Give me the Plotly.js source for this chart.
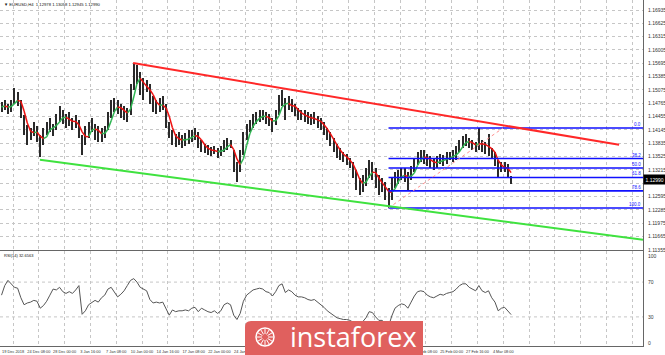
<!DOCTYPE html>
<html><head><meta charset="utf-8">
<script src="https://cdn.plot.ly/plotly-3.0.1.min.js"></script>
<style>html,body{margin:0;padding:0;background:#fff;}#chart{width:665px;height:355px;}</style>
</head><body><div id="chart"></div>
<script>
// ---------------- DATA ----------------
const symbolTitle = "EURUSD,H4";
const headerOHLC = [1.12978, 1.13058, 1.12945, 1.12990];
const lastPrice = 1.12990;

const dateLabels = ["19 Dec 2018","24 Dec 08:00","28 Dec 00:00","3 Jan 16:00","7 Jan 08:00","10 Jan 00:00",
  "14 Jan 16:00","17 Jan 08:00","22 Jan 00:00","24 Jan 16:00","29 Jan 08:00","1 Feb 00:00","5 Feb 16:00",
  "8 Feb 08:00","13 Feb 00:00","15 Feb 16:00","20 Feb 08:00","25 Feb 00:00","27 Feb 16:00","4 Mar 08:00"];

const priceTicks = [1.16935,1.16625,1.16315,1.16005,1.15695,1.15385,1.15075,1.14765,1.14455,1.14145,
  1.13835,1.13525,1.13215,1.12905,1.12595,1.12285,1.11975,1.11665,1.11355];

const rsiTicks = [100, 70, 30, 0];
const rsiLevels = [70, 30];

// one point = two H4 bars
const barHigh = [1.1480,1.1484,1.1475,1.1484,1.1512,1.1503,1.1484,1.1449,1.1426,1.1419,
1.1433,1.1424,1.1403,1.1419,1.1433,1.1442,1.1428,1.1452,1.1470,1.1461,
1.1452,1.1456,1.1442,1.1449,1.1438,1.1403,1.1424,1.1433,1.1442,1.1428,
1.1424,1.1419,1.1424,1.1456,1.1484,1.1489,1.1484,1.1475,1.1470,1.1466,
1.1521,1.1570,1.1566,1.1549,1.1535,1.1531,1.1521,1.1494,1.1484,1.1489,
1.1494,1.1475,1.1433,1.1415,1.1405,1.1410,1.1403,1.1408,1.1415,1.1415,
1.1419,1.1410,1.1391,1.1382,1.1380,1.1375,1.1377,1.1373,1.1377,1.1391,
1.1396,1.1391,1.1368,1.1340,1.1368,1.1410,1.1428,1.1438,1.1452,1.1456,
1.1461,1.1461,1.1456,1.1452,1.1442,1.1461,1.1496,1.1507,1.1489,1.1494,
1.1487,1.1475,1.1466,1.1461,1.1461,1.1456,1.1452,1.1456,1.1447,1.1442,
1.1433,1.1419,1.1410,1.1396,1.1382,1.1373,1.1363,1.1359,1.1349,1.1340,
1.1321,1.1303,1.1310,1.1326,1.1345,1.1340,1.1326,1.1310,1.1303,1.1294,
1.1280,1.1303,1.1317,1.1321,1.1326,1.1326,1.1317,1.1331,1.1349,1.1363,
1.1368,1.1368,1.1359,1.1354,1.1349,1.1354,1.1359,1.1356,1.1363,1.1363,
1.1368,1.1377,1.1391,1.1401,1.1405,1.1396,1.1391,1.1387,1.1419,1.1391,
1.1387,1.1405,1.1373,1.1363,1.1345,1.1340,1.1340,1.1335,1.1308];

const barLow = [1.1456,1.1461,1.1452,1.1456,1.1475,1.1470,1.1442,1.1403,1.1380,1.1391,
1.1401,1.1387,1.1352,1.1380,1.1403,1.1410,1.1401,1.1415,1.1433,1.1428,
1.1419,1.1424,1.1415,1.1419,1.1396,1.1356,1.1380,1.1396,1.1410,1.1391,
1.1387,1.1387,1.1396,1.1415,1.1442,1.1456,1.1452,1.1442,1.1438,1.1433,
1.1449,1.1507,1.1521,1.1496,1.1484,1.1503,1.1475,1.1456,1.1452,1.1456,
1.1461,1.1419,1.1396,1.1380,1.1375,1.1380,1.1373,1.1377,1.1382,1.1387,
1.1391,1.1373,1.1363,1.1361,1.1356,1.1354,1.1359,1.1349,1.1354,1.1363,
1.1368,1.1373,1.1317,1.1294,1.1317,1.1356,1.1391,1.1410,1.1419,1.1428,
1.1433,1.1438,1.1428,1.1424,1.1410,1.1426,1.1449,1.1470,1.1438,1.1461,
1.1456,1.1447,1.1438,1.1438,1.1433,1.1428,1.1426,1.1428,1.1419,1.1415,
1.1403,1.1391,1.1377,1.1363,1.1349,1.1345,1.1340,1.1333,1.1326,1.1303,
1.1275,1.1263,1.1270,1.1284,1.1303,1.1298,1.1280,1.1263,1.1270,1.1252,
1.1233,1.1252,1.1280,1.1289,1.1298,1.1294,1.1275,1.1298,1.1317,1.1333,
1.1340,1.1335,1.1331,1.1326,1.1321,1.1326,1.1335,1.1331,1.1335,1.1345,
1.1340,1.1345,1.1363,1.1373,1.1377,1.1373,1.1368,1.1363,1.1368,1.1363,
1.1359,1.1354,1.1349,1.1331,1.1303,1.1317,1.1317,1.1303,1.1289];

const rsiValues = [55,66,72,68,64,63,52,44,46,47,
49,48,40,43,48,55,62,61,64,59,
57,59,57,61,66,33,37,44,47,49,
47,52,55,62,64,58,53,56,60,66,
72,74,70,64,62,60,50,46,47,46,
47,39,32,38,36,37,37,38,37,40,
41,36,40,38,36,35,37,34,37,44,
46,44,32,27,34,48,55,58,61,62,
63,62,59,58,54,59,66,68,58,61,
59,55,53,53,52,50,49,50,47,45,
41,37,34,31,29,28,27,27,26,24,
21,20,24,29,36,35,30,26,26,23,
19,31,40,43,45,44,40,47,54,59,
60,59,55,53,52,54,56,55,57,58,
59,62,66,68,68,64,62,60,66,60,
58,60,52,47,37,40,41,37,32.6563];

// trend lines: [bar index], [price]
const resistanceX = [40.8, 191.5];
const resistanceY = [1.1570, 1.1380];
const supportX = [11.9, 198.9];
const supportY = [1.1345, 1.1159];

// Fibonacci retracement
const fibAnchorX = [120, 155.5];
const fibAnchorY = [1.1233, 1.1419];  // low, high
const fibRatios = [0, 38.2, 50, 61.8, 78.6, 100];
const fibLabels = ["0.0", "38.2", "50.0", "61.8", "78.6", "100.0"];

// ---------------- BUILD ----------------
const W = 665, H = 355;
const px = x => x / W, py = y => 1 - y / H;
const N = barHigh.length;
const idx = barHigh.map((_, i) => i);
const xMin = -0.47, xMax = 198.9;
const plotRightPx = 643;
const FONT = "Liberation Sans, Arial, sans-serif";

const mid = barHigh.map((h, i) => (h + barLow[i]) / 2);
const ma = mid.map((_, i) => { const a = Math.max(0, i - 2); let s = 0; for (let k = a; k <= i; k++) s += mid[k]; return s / (i - a + 1); });
const up = {x: [], y: []}, dn = {x: [], y: []};
for (let i = 0; i < N - 1; i++) { const t = ma[i + 1] >= ma[i] ? up : dn; t.x.push(i, i + 1, null); t.y.push(ma[i], ma[i + 1], null); }

const traces = [];
traces.push({type: 'bar', x: idx, y: barHigh.map((h, i) => h - barLow[i]), base: barLow, width: 0.62,
  marker: {color: '#2a2a2a', line: {width: 0}}, xaxis: 'x', yaxis: 'y', hoverinfo: 'skip'});
traces.push({type: 'scatter', mode: 'lines', x: up.x, y: up.y, line: {color: '#2fb552', width: 1.5}, connectgaps: false, hoverinfo: 'skip'});
traces.push({type: 'scatter', mode: 'lines', x: dn.x, y: dn.y, line: {color: '#ee1111', width: 1.5}, connectgaps: false, hoverinfo: 'skip'});

const hi = fibAnchorY[1], lo = fibAnchorY[0];
const fibPrices = fibRatios.map(r => hi - r / 100 * (hi - lo));
fibPrices.forEach(p => traces.push({type: 'scatter', mode: 'lines', x: [fibAnchorX[0], xMax], y: [p, p],
  line: {color: '#1010ff', width: 1.6}, hoverinfo: 'skip'}));
traces.push({type: 'scatter', mode: 'lines', x: fibAnchorX, y: fibAnchorY, line: {color: '#ff8f8f', width: 1, dash: 'dot'}, hoverinfo: 'skip'});
traces.push({type: 'scatter', mode: 'lines', x: resistanceX, y: resistanceY, line: {color: '#ff2828', width: 2}, hoverinfo: 'skip'});
traces.push({type: 'scatter', mode: 'lines', x: supportX, y: supportY, line: {color: '#3fe23f', width: 2}, hoverinfo: 'skip'});
traces.push({type: 'scatter', mode: 'lines', x: idx, y: rsiValues, xaxis: 'x2', yaxis: 'y2', line: {color: '#555', width: 1}, hoverinfo: 'skip'});

// watermark box (pixels)
const wmLeft = 245, wmRight = 423, wmTop = 321;

const tickStart = 3.57;
const pxPerIdx = plotRightPx / (xMax - xMin);
const allLabels = dateLabels.concat(['', '', '', '', '']);
const xTickVals = allLabels.map((_, k) => tickStart + 8 * k);
// labels lying completely under the watermark are not visible in the picture
const tickText = allLabels.map((t, k) => {
  const cxp = (xTickVals[k] - xMin) * pxPerIdx;
  return (cxp - 11 > wmLeft && cxp + 11 < wmRight) ? '' : t;
});

const grid = {showgrid: true, gridcolor: '#c6c6c6', griddash: 'dot', gridwidth: 1, zeroline: false};
const frame = {showline: true, linecolor: '#666', linewidth: 1, mirror: true};

const step = 0.0031, stepPx = 40 / 3;
const pBot = priceTicks[priceTicks.length - 1] - 0.00002;
const pTop = priceTicks[0] + 10 * step / stepPx;
// the price label hidden behind the current-price box
const priceText = priceTicks.map(v => Math.abs(v - lastPrice) < step / 2.5 ? '' : v.toFixed(5));

const annotations = [];
annotations.push({xref: 'paper', yref: 'paper', x: px(2), y: py(4.5), xanchor: 'left', yanchor: 'middle', showarrow: false,
  text: '▼ ' + symbolTitle + '  ' + headerOHLC.map(v => v.toFixed(5)).join(' '), font: {family: FONT, size: 4.2, color: '#111'}});
annotations.push({xref: 'paper', yref: 'paper', x: px(2), y: py(255.5), xanchor: 'left', yanchor: 'middle', showarrow: false,
  text: 'RSI(14) ' + rsiValues[N - 1].toFixed(4), font: {family: FONT, size: 4, color: '#111'}});
fibPrices.forEach((p, k) => annotations.push({xref: 'x', yref: 'y', x: xMax, y: p, xanchor: 'right', yanchor: 'bottom', showarrow: false,
  text: fibLabels[k], font: {family: FONT, size: 4.5, color: '#1010ff'}, yshift: -1}));
annotations.push({xref: 'paper', yref: 'y', x: px(plotRightPx), y: lastPrice, xanchor: 'left', yanchor: 'middle', showarrow: false,
  text: lastPrice.toFixed(5), bgcolor: '#000', borderpad: 1.5, font: {family: FONT, size: 5, color: '#fff'}});
annotations.push({xref: 'paper', yref: 'paper', x: px(288), y: py(336), xanchor: 'left', yanchor: 'middle', showarrow: false,
  text: 'instaforex', font: {family: 'Open Sans, Liberation Sans, sans-serif', size: 27, color: '#fff'}});

const shapes = [];
rsiLevels.forEach(v => shapes.push({type: 'line', xref: 'x2 domain', yref: 'y2', x0: 0, x1: 1, y0: v, y1: v,
  line: {color: '#c6c6c6', width: 1, dash: 'dot'}, layer: 'below'}));
shapes.push({type: 'path', xref: 'paper', yref: 'paper', layer: 'above',
  path: `M${px(wmLeft)},${py(355)} L${px(wmLeft)},${py(wmTop + 6)} Q${px(wmLeft)},${py(wmTop)} ${px(wmLeft + 6)},${py(wmTop)} L${px(wmRight)},${py(wmTop)} L${px(wmRight)},${py(355)} Z`,
  fillcolor: '#e0605e', line: {width: 0}});
const cx = 265, cy = 337, r = 9;
shapes.push({type: 'circle', xref: 'paper', yref: 'paper', layer: 'above', x0: px(cx - r), x1: px(cx + r), y0: py(cy + r), y1: py(cy - r),
  line: {color: '#fff', width: 1.5}, fillcolor: 'rgba(0,0,0,0)'});
for (let k = 0; k < 12; k++) {
  const a = k * Math.PI / 6;
  shapes.push({type: 'line', xref: 'paper', yref: 'paper', layer: 'above',
    x0: px(cx + Math.cos(a) * 3), y0: py(cy + Math.sin(a) * 3), x1: px(cx + Math.cos(a) * (r - 1)), y1: py(cy + Math.sin(a) * (r - 1)),
    line: {color: '#fff', width: 1}});
}

const layout = {
  width: W, height: H, margin: {l: 0, r: 0, t: 0, b: 0}, paper_bgcolor: '#fff', plot_bgcolor: '#fff',
  showlegend: false, bargap: 0, font: {family: FONT, size: 5, color: '#333'},
  xaxis: Object.assign({domain: [0, px(plotRightPx)], range: [xMin, xMax], anchor: 'y', tickvals: xTickVals, showticklabels: false, ticks: ''}, grid, frame),
  xaxis2: Object.assign({domain: [0, px(plotRightPx)], range: [xMin, xMax], anchor: 'y2', tickvals: xTickVals, ticktext: tickText, tickangle: 0,
    showticklabels: true, ticks: '', ticklabelstandoff: 1, tickfont: {family: FONT, size: 3.9, color: '#333'}}, grid, frame),
  yaxis: Object.assign({domain: [py(250), 1], range: [pBot, pTop], anchor: 'x', side: 'right', tickvals: priceTicks,
    ticktext: priceText, ticks: '', ticklabelstandoff: 3,
    tickfont: {family: FONT, size: 5, color: '#333'}}, grid, frame),
  yaxis2: Object.assign({domain: [py(346), py(251)], range: [-3.45, 105.75], anchor: 'x2', side: 'right', tickvals: rsiTicks,
    ticktext: rsiTicks.map(String), ticks: '', ticklabelstandoff: 3, showgrid: false, zeroline: false,
    tickfont: {family: FONT, size: 5, color: '#333'}}, frame),
  annotations: annotations, shapes: shapes
};

Plotly.newPlot('chart', traces, layout, {staticPlot: true, displayModeBar: false});
</script></body></html>
